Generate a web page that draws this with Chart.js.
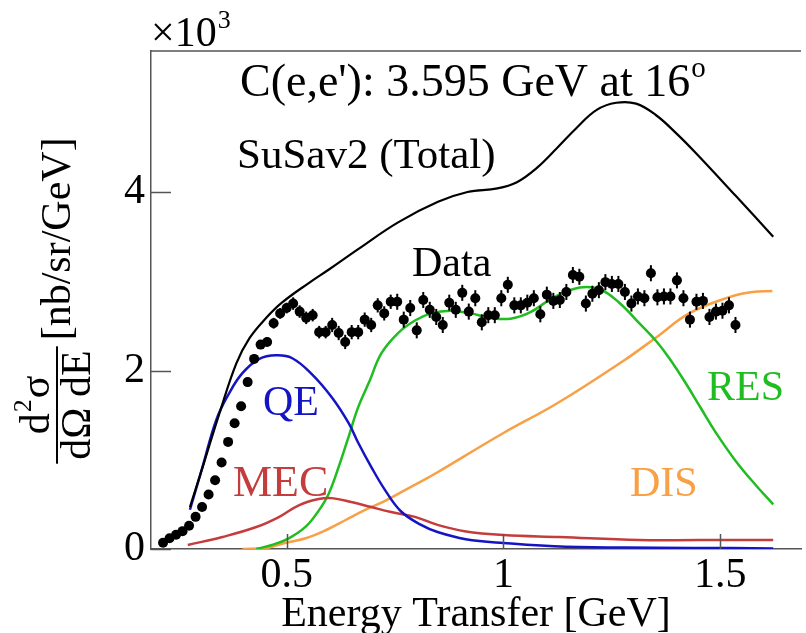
<!DOCTYPE html>
<html lang="en">
<head>
  <meta charset="UTF-8">
  <title>C(e,e'): 3.595 GeV at 16 deg</title>
  <script src="https://cdn.jsdelivr.net/npm/chart.js@4"></script>
  <style>
    html, body { margin:0; padding:0; background:#fff; }
    #wrap { width:806px; height:633px; position:relative; }
  </style>
</head>
<body>
  <div id="wrap"><canvas id="chart"></canvas></div>
  <script>
    // axis ticks
    const xTicks = [0.5, 1, 1.5];
    const yTicks = [0, 2, 4];

    // SuSav2 total
    const totX = [0.277, 0.30, 0.345, 0.384, 0.414, 0.453, 0.489, 0.551, 0.60, 0.665, 0.757, 0.849, 0.917, 0.986, 1.031, 1.077, 1.123, 1.169, 1.215, 1.26, 1.306, 1.352, 1.398, 1.443, 1.535, 1.622];
    const totY = [0.47, 0.82, 1.52, 2.08, 2.36, 2.59, 2.76, 2.98, 3.14, 3.36, 3.66, 3.89, 4.00, 4.04, 4.11, 4.27, 4.49, 4.72, 4.92, 5.00, 4.99, 4.86, 4.66, 4.44, 3.96, 3.50];

    // QE
    const qeX = [0.277, 0.306, 0.338, 0.368, 0.398, 0.437, 0.476, 0.512, 0.558, 0.604, 0.643, 0.665, 0.695, 0.727, 0.764, 0.81, 0.848, 0.913, 1.0, 1.144, 1.35, 1.526, 1.622];
    const qeY = [0.44, 0.92, 1.45, 1.75, 1.97, 2.13, 2.17, 2.14, 1.96, 1.70, 1.41, 1.19, 0.92, 0.66, 0.42, 0.27, 0.19, 0.11, 0.067, 0.025, 0.015, 0.01, 0.005];

    // MEC
    const mecX = [0.272, 0.352, 0.43, 0.482, 0.528, 0.574, 0.604, 0.649, 0.695, 0.741, 0.796, 0.848, 0.91, 1.0, 1.13, 1.313, 1.45, 1.622];
    const mecY = [0.045, 0.135, 0.246, 0.358, 0.49, 0.56, 0.57, 0.527, 0.47, 0.415, 0.36, 0.27, 0.20, 0.157, 0.134, 0.10, 0.10, 0.10];

    // RES
    const resX = [0.43, 0.466, 0.505, 0.544, 0.574, 0.597, 0.62, 0.643, 0.665, 0.692, 0.718, 0.757, 0.796, 0.833, 0.878, 0.924, 0.97, 1.016, 1.061, 1.116, 1.176, 1.222, 1.267, 1.313, 1.352, 1.382, 1.42, 1.455, 1.489, 1.535, 1.581, 1.622];
    const resY = [0.0, 0.045, 0.12, 0.25, 0.43, 0.62, 0.92, 1.26, 1.59, 1.89, 2.19, 2.42, 2.56, 2.64, 2.67, 2.64, 2.59, 2.58, 2.65, 2.82, 2.93, 2.91, 2.76, 2.53, 2.33, 2.14, 1.86, 1.58, 1.31, 0.99, 0.72, 0.50];

    // DIS
    const disX = [0.398, 0.453, 0.498, 0.544, 0.59, 0.636, 0.681, 0.727, 0.773, 0.819, 0.848, 1.0, 1.123, 1.277, 1.352, 1.428, 1.519, 1.574, 1.62];
    const disY = [0.0, 0.01, 0.07, 0.12, 0.21, 0.325, 0.437, 0.54, 0.66, 0.78, 0.86, 1.30, 1.63, 2.11, 2.37, 2.64, 2.82, 2.88, 2.89];

    // Data
    const dataX = [0.215, 0.23, 0.245, 0.26, 0.275, 0.29, 0.305, 0.32, 0.335, 0.35,
      0.365, 0.38, 0.395, 0.41, 0.425, 0.44, 0.455, 0.47, 0.485, 0.5,
      0.515, 0.53, 0.545, 0.56, 0.575, 0.59, 0.605, 0.62, 0.635, 0.65,
      0.665, 0.68, 0.695, 0.71, 0.725, 0.74, 0.755, 0.77, 0.785, 0.8,
      0.815, 0.83, 0.845, 0.86, 0.875, 0.89, 0.905, 0.92, 0.935, 0.95,
      0.965, 0.98, 0.995, 1.01, 1.025, 1.04, 1.055, 1.07, 1.085, 1.1,
      1.115, 1.13, 1.145, 1.16, 1.175, 1.19, 1.205, 1.22, 1.235, 1.25,
      1.265, 1.28, 1.295, 1.31, 1.325, 1.34, 1.355, 1.37, 1.385, 1.4,
      1.415, 1.43, 1.445, 1.46, 1.475, 1.49, 1.505, 1.52, 1.535];
    const dataY = [0.07, 0.12, 0.16, 0.20, 0.26, 0.36, 0.47, 0.61, 0.77, 0.97,
      1.20, 1.41, 1.60, 1.87, 2.13, 2.29, 2.32, 2.53, 2.64, 2.70,
      2.75, 2.66, 2.59, 2.62, 2.43, 2.43, 2.51, 2.42, 2.32, 2.43,
      2.43, 2.57, 2.51, 2.73, 2.64, 2.77, 2.77, 2.57, 2.70, 2.45,
      2.79, 2.68, 2.60, 2.51, 2.76, 2.68, 2.87, 2.66, 2.81, 2.54,
      2.62, 2.62, 2.81, 2.96, 2.73, 2.73, 2.76, 2.81, 2.63, 2.85,
      2.78, 2.79, 2.88, 3.07, 3.05, 2.75, 2.86, 2.90, 2.99, 2.97,
      2.97, 2.88, 2.75, 2.83, 2.81, 3.09, 2.82, 2.83, 2.83, 3.01,
      2.81, 2.57, 2.77, 2.78, 2.60, 2.66, 2.67, 2.73, 2.51];
    const dataErr = [0.02, 0.02, 0.02, 0.02, 0.02, 0.03, 0.03, 0.03, 0.03, 0.03,
      0.04, 0.04, 0.04, 0.05, 0.05, 0.05, 0.05, 0.06, 0.06, 0.06,
      0.07, 0.07, 0.07, 0.07, 0.07, 0.07, 0.08, 0.08, 0.08, 0.08,
      0.08, 0.08, 0.08, 0.08, 0.08, 0.08, 0.09, 0.09, 0.09, 0.09,
      0.09, 0.09, 0.09, 0.09, 0.09, 0.09, 0.09, 0.09, 0.09, 0.09,
      0.09, 0.09, 0.09, 0.09, 0.09, 0.09, 0.09, 0.09, 0.09, 0.09,
      0.09, 0.09, 0.09, 0.09, 0.09, 0.09, 0.09, 0.09, 0.09, 0.09,
      0.09, 0.09, 0.09, 0.09, 0.09, 0.09, 0.09, 0.09, 0.09, 0.09,
      0.09, 0.09, 0.09, 0.09, 0.09, 0.09, 0.09, 0.09, 0.09];

    const SERIF = '"Liberation Serif", "DejaVu Serif", serif';
    const C_QE = '#1414c4', C_MEC = '#c43c3c', C_RES = '#1fbd1f', C_DIS = '#f7a045';

    const xy = (xs, ys) => xs.map((x, i) => ({x: x, y: ys[i]}));
    const curve = (label, xs, ys, color, w) => ({
      label, data: xy(xs, ys), showLine: true, borderColor: color, borderWidth: w,
      pointRadius: 0, tension: 0.4, fill: false
    });

    // text with a raised small part
    function supText(ctx, base, sup, x, y, size) {
      ctx.font = size + 'px ' + SERIF;
      ctx.fillText(base, x, y);
      const w = ctx.measureText(base).width;
      ctx.font = Math.round(size * 0.62) + 'px ' + SERIF;
      ctx.fillText(sup, x + w + 1, y - size * 0.42);
    }

    const rootStyle = {
      id: 'rootStyle',
      afterDatasetsDraw(chart) {
        const {ctx, scales: {x, y}} = chart;
        // error bars on data
        ctx.save();
        ctx.strokeStyle = '#000';
        ctx.lineWidth = 2;
        dataX.forEach((v, i) => {
          const px = x.getPixelForValue(v);
          ctx.beginPath();
          ctx.moveTo(px, y.getPixelForValue(dataY[i] - dataErr[i]));
          ctx.lineTo(px, y.getPixelForValue(dataY[i] + dataErr[i]));
          ctx.stroke();
        });
        ctx.restore();
      },
      afterDraw(chart) {
        const {ctx, chartArea: a, scales: {x, y}} = chart;
        ctx.save();
        // frame top + inner ticks
        ctx.strokeStyle = '#555';
        ctx.lineWidth = 1.5;
        ctx.beginPath();
        ctx.moveTo(a.left, a.top); ctx.lineTo(a.right, a.top);
        xTicks.forEach(v => {
          const px = Math.round(x.getPixelForValue(v)) + 0.5;
          ctx.moveTo(px, a.bottom); ctx.lineTo(px, a.bottom - 15);
        });
        yTicks.forEach(v => {
          const py = Math.round(y.getPixelForValue(v)) + 0.5;
          ctx.moveTo(a.left, py); ctx.lineTo(a.left + 20, py);
        });
        ctx.stroke();

        ctx.textBaseline = 'alphabetic';
        ctx.textAlign = 'left';
        ctx.fillStyle = '#000';
        supText(ctx, '\u00d710', '3', 151, 46, 42);
        supText(ctx, "C(e,e'): 3.595 GeV at 16", 'o', 240, 96, 46);
        ctx.font = '43px ' + SERIF;
        ctx.fillText('SuSav2 (Total)', 237, 168);
        ctx.font = '42px ' + SERIF;
        ctx.fillText('Data', 412, 276);
        ctx.fillStyle = C_QE; ctx.fillText('QE', 263, 415);
        ctx.fillStyle = C_DIS; ctx.fillText('DIS', 630, 496);
        ctx.fillStyle = C_RES; ctx.fillText('RES', 707, 400);
        ctx.font = '44px ' + SERIF;
        ctx.fillStyle = C_MEC; ctx.fillText('MEC', 233, 496);

        // y title: d2sigma / dOmega dE [nb/sr/GeV]
        ctx.fillStyle = '#000';
        ctx.translate(57, 405);
        ctx.rotate(-Math.PI / 2);
        ctx.font = '42px ' + SERIF;
        const wd = ctx.measureText('d').width, ws = ctx.measureText('\u03c3').width;
        ctx.font = '26px ' + SERIF;
        const w2 = ctx.measureText('2').width;
        let u = -(wd + w2 + ws + 2) / 2;
        ctx.font = '42px ' + SERIF;
        ctx.fillText('d', u, -8);
        ctx.font = '26px ' + SERIF;
        ctx.fillText('2', u + wd + 1, -26);
        ctx.font = '42px ' + SERIF;
        ctx.fillText('\u03c3', u + wd + w2 + 2, -8);
        const den = 'd\u03a9 dE';
        const wden = ctx.measureText(den).width;
        ctx.fillText(den, -wden / 2, 33);
        ctx.fillRect(-wden / 2 - 4, -1, wden + 8, 2);
        ctx.fillText('[nb/sr/GeV]', wden / 2 + 10, 13);
        ctx.restore();
      }
    };

    new Chart(document.getElementById('chart'), {
      type: 'scatter',
      data: {
        datasets: [
          {label: 'Data', data: xy(dataX, dataY), pointRadius: 5, pointBackgroundColor: '#000', pointBorderWidth: 0, showLine: false},
          curve('SuSav2 (Total)', totX, totY, '#000', 2.2),
          curve('QE', qeX, qeY, C_QE, 2.5),
          curve('MEC', mecX, mecY, C_MEC, 2.5),
          curve('RES', resX, resY, C_RES, 2.5),
          curve('DIS', disX, disY, C_DIS, 2.5)
        ]
      },
      options: {
        responsive: true,
        maintainAspectRatio: false,
        animation: false,
        layout: {padding: {top: 51, right: 0, bottom: 0, left: 0}},
        plugins: {legend: {display: false}, tooltip: {enabled: false}},
        scales: {
          x: {
            type: 'linear', min: 0.1872, max: 1.6861,
            afterBuildTicks: s => { s.ticks = xTicks.map(v => ({value: v})); },
            afterFit: s => { s.height = 84; },
            grid: {display: false, drawTicks: false},
            border: {display: true, color: '#555', width: 1.5},
            ticks: {font: {family: SERIF, size: 42}, color: '#000', padding: 2, maxRotation: 0, callback: v => String(v)},
            title: {display: true, text: 'Energy Transfer [GeV]', font: {family: SERIF, size: 42, lineHeight: 0.85}, color: '#000', padding: {top: 0, bottom: 0}}
          },
          y: {
            type: 'linear', min: 0, max: 5.58,
            afterBuildTicks: s => { s.ticks = yTicks.map(v => ({value: v})); },
            afterFit: s => { s.width = 151; },
            grid: {display: false, drawTicks: false},
            border: {display: true, color: '#555', width: 1.5},
            ticks: {font: {family: SERIF, size: 42}, color: '#000', padding: 6, callback: v => String(v)}
          }
        }
      },
      plugins: [rootStyle]
    });
  </script>
</body>
</html>
